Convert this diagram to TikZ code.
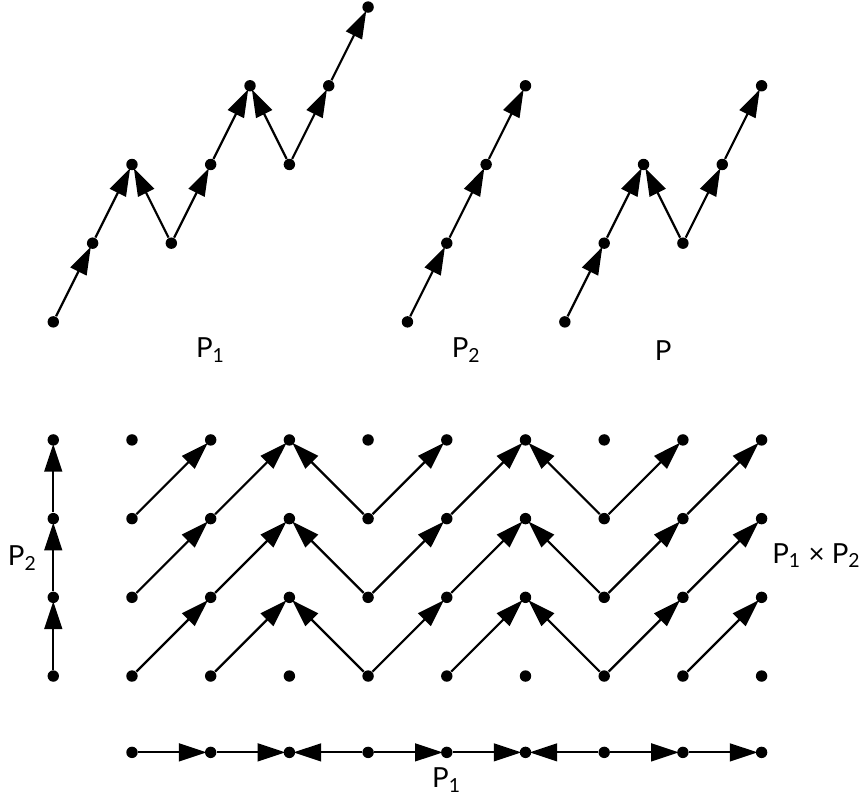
\documentclass[tikz,border=0pt]{standalone}
\usepackage{fontspec}
\setmainfont{Lato}
\usetikzlibrary{arrows.meta}
\tikzset{dot/.style={circle,fill=black,inner sep=0pt,minimum size=0.145cm},up/.style={-{Triangle[length=10pt,width=6.4pt]},line width=0.8pt,shorten >=-0.8pt},lbl/.style={font=\fontsize{10}{12}\selectfont,inner sep=0pt}}

\begin{document}
\begin{tikzpicture}
        \useasboundingbox (-1.677,-1.550) rectangle (9.352,8.590);
        % the three posets on top
        \foreach \i/\h in {0/0,1/1,2/2,3/1,4/2,5/3,6/2,7/3,8/4}
          \node[dot](a\i)at({-1+0.5*\i},{4.5+\h}){};
        \foreach \i in {0,...,3}
          \node[dot](b\i)at({3.5+0.5*\i},{4.5+\i}){};
        \foreach \i/\h in {0/0,1/1,2/2,3/1,4/2,5/3}
          \node[dot](c\i)at({5.5+0.5*\i},{4.5+\h}){};
        \foreach \s/\t in {0/1,1/2,3/2,3/4,4/5,6/5,6/7,7/8}
          \draw[up](a\s)--(a\t);
        \foreach \s/\t in {0/1,1/2,2/3}
          \draw[up](b\s)--(b\t);
        \foreach \s/\t in {0/1,1/2,3/2,3/4,4/5}
          \draw[up](c\s)--(c\t);
        \node[lbl](pone)at(1,4.14){P\textsubscript{1}};
        \node[lbl](ptwo)at(4.25,4.14){P\textsubscript{2}};
        \node[lbl](pp)at(6.75,4.14){P};
        % the product
        \foreach \r in {0,...,3}{
          \node[dot](l\r)at(-1,\r){};
          \foreach \c in {0,...,8}
            \node[dot](g\c-\r)at(\c,\r){};
        }
        \foreach \c in {0,...,8}
          \node[dot](m\c)at(\c,-0.97){};
        \foreach \s/\t in {0/1,1/2,2/3}
          \draw[up](l\s)--(l\t);
        \foreach \s/\t in {0/1,1/2,3/2,3/4,4/5,6/5,6/7,7/8}{
          \draw[up](m\s)--(m\t);
          \foreach \r/\q in {0/1,1/2,2/3}
            \draw[up](g\s-\r)--(g\t-\q);
        }
        \node[lbl](ltwo)at(-1.39,1.5){P\textsubscript{2}};
        \node[lbl](bone)at(4,-1.32){P\textsubscript{1}};
        \node[lbl](prod)at(8.70,1.53){P\textsubscript{1} × P\textsubscript{2}};
      \end{tikzpicture}
\end{document}
